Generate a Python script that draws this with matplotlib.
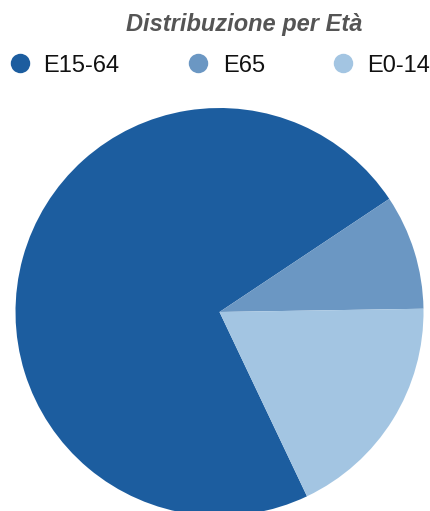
import matplotlib.pyplot as plt
from matplotlib.lines import Line2D

# Age distribution shares (%)
labels = ["E15-64", "E65", "E0-14"]
shares = [72.7, 9.1, 18.2]
colors = ["#1c5d9f", "#6b97c3", "#a3c5e2"]

W, H = 431, 511
fig = plt.figure(figsize=(W / 100, H / 100), dpi=100)

# pie axes: centre at (219.5, 312) px, radius 204 px
cx, cy, r = 219.5, 312, 204
ax = fig.add_axes([(cx - r) / W, (H - cy - r) / H, 2 * r / W, 2 * r / H])
ax.pie(shares, colors=colors, startangle=-64.6, counterclock=False,
       radius=1, wedgeprops=dict(linewidth=0))
ax.set_xlim(-1, 1)
ax.set_ylim(-1, 1)
ax.set_aspect("equal")
ax.axis("off")

fig.text(244 / W, 1 - 31.5 / H, "Distribuzione per Età", ha="center", va="baseline",
         fontsize=17, fontweight="bold", fontstyle="italic", color="#555555",
         family="Liberation Sans")

# legend row, laid out by hand
dot_x = [20, 198, 343]
text_x = [43, 223, 367]
for lab, col, dx, tx in zip(labels, colors, dot_x, text_x):
    fig.add_artist(Line2D([dx / W], [1 - 63.5 / H], marker="o", linestyle="",
                          markersize=14, markerfacecolor=col, markeredgewidth=0,
                          transform=fig.transFigure))
    fig.text(tx / W, 1 - 72.5 / H, lab, ha="left", va="baseline", fontsize=17,
             color="#111111", family="Liberation Sans")

fig.savefig("out.png", dpi=100)
